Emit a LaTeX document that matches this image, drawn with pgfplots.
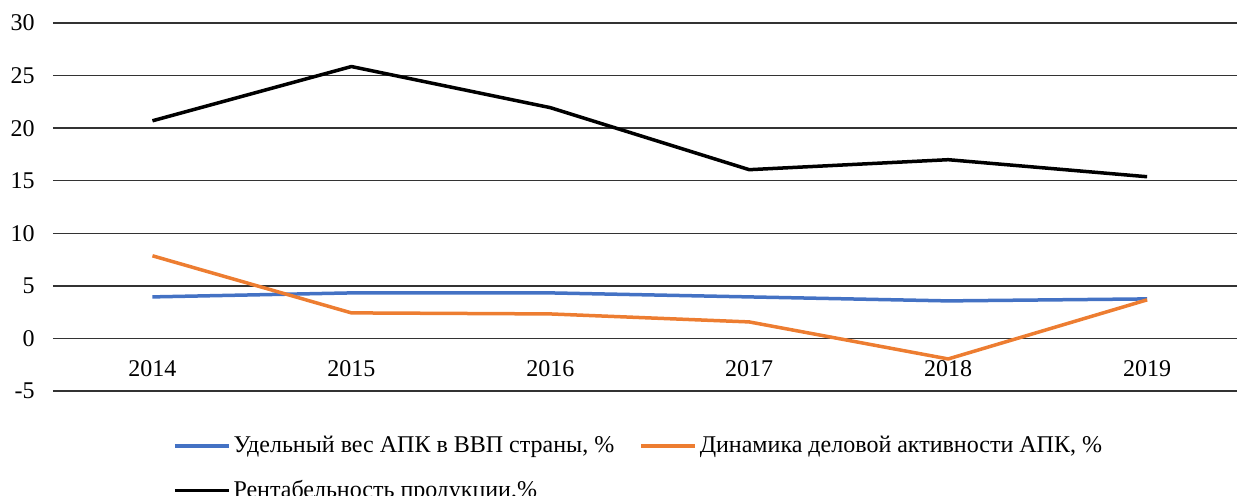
\documentclass[border=0pt]{standalone}
\usepackage{fontspec}
\setmainfont{Liberation Serif}
\usepackage{pgfplots}
\pgfplotsset{compat=1.18}
\definecolor{serblue}{HTML}{4472C4}
\definecolor{serorange}{HTML}{ED7D31}
\begin{document}
\fontsize{12}{14}\selectfont
\begin{tikzpicture}
\useasboundingbox (0,0) rectangle (618.5pt,247.5pt);
\begin{axis}[
  at={(26.5pt,52pt)}, anchor=south west,
  scale only axis, width=592pt, height=184pt,
  xmin=-0.5, xmax=5.452, ymin=-5, ymax=30,
  axis x line*=middle, axis y line*=left,
  axis line style={draw=none},
  major tick length=0pt,
  xtick={0,1,2,3,4,5},
  xticklabels={2014,2015,2016,2017,2018,2019},
  xticklabel style={yshift=-7pt},
  ytick={-5,0,5,10,15,20,25,30},
  yticklabels={-5,0,5,10,15,20,25,30},
  yticklabel style={xshift=-5pt},
  ymajorgrids, grid style={black!80, line width=0.7pt},
  clip=false,
  legend columns=2,
  legend cell align=left,
  legend style={draw=none, fill=none, at={(0.096,-0.1)}, anchor=north west,
    font=\fontsize{12}{14}\selectfont, row sep=8pt,
    /tikz/every even column/.append style={column sep=11pt},
    nodes={inner xsep=1.5pt}},
  legend image code/.code={\draw[#1] (0pt,0pt) -- (27pt,0pt);},
  every axis plot/.append style={line width=1.75pt, line join=round},
]
\addplot[serblue] coordinates {(0,3.95) (1,4.33) (2,4.33) (3,3.95) (4,3.57) (5,3.76)};
\addlegendentry{Удельный вес АПК в ВВП страны, \%}
\addplot[serorange] coordinates {(0,7.86) (1,2.43) (2,2.33) (3,1.57) (4,-1.95) (5,3.67)};
\addlegendentry{Динамика деловой активности АПК, \%}
\addplot[black] coordinates {(0,20.7) (1,25.86) (2,21.95) (3,16.05) (4,17.0) (5,15.38)};
\addlegendentry{Рентабельность продукции,\%}
\end{axis}
\end{tikzpicture}
\end{document}
